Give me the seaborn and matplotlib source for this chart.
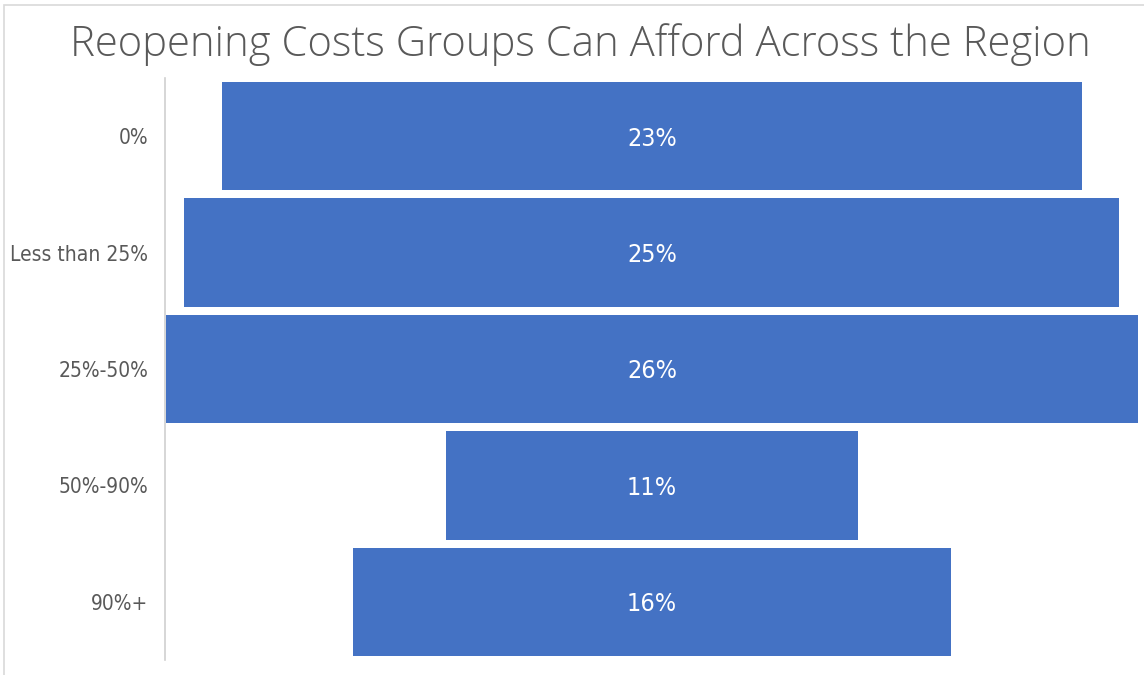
import pandas as pd
import matplotlib.pyplot as plt
import matplotlib.patches as mpatches
from matplotlib import font_manager
import seaborn as sns

sns.set_style("white")

# procurar uma fonte estreita instalada
nomes = {f.name for f in font_manager.fontManager.ttflist}
estreitas = [n for n in ["Liberation Sans Narrow", "DejaVu Sans Condensed"] if n in nomes]
plt.rcParams['font.family'] = estreitas + ['DejaVu Sans']
plt.rcParams['font.stretch'] = 'condensed'

# dados
categorias = ["0%", "Less than 25%", "25%-50%", "50%-90%", "90%+"]
valores = [23, 25, 26, 11, 16]

azul = "#4472C4"
cinza = "#595959"

df = pd.DataFrame({"categoria": categorias, "valor": valores})
df["metade_dir"] = df["valor"] / 2
df["metade_esq"] = -df["valor"] / 2

fig = plt.figure(figsize=(11.44, 6.75), dpi=100)
ax = fig.add_axes([165 / 1144, 1 - 660 / 675, (1140 - 165) / 1144, (660 - 78) / 675])

# funil: duas metades simétricas em torno do zero
sns.barplot(data=df, x="metade_dir", y="categoria", color=azul, saturation=1,
            width=0.93, linewidth=0, ax=ax)
sns.barplot(data=df, x="metade_esq", y="categoria", color=azul, saturation=1,
            width=0.93, linewidth=0, ax=ax)

ax.set_xlim(-13.02, 13.05)
ax.set_ylim(4.5, -0.5)
ax.set_xlabel("")
ax.set_ylabel("")
ax.set_xticks([])
ax.tick_params(axis="y", length=0, pad=12, labelsize=15, labelcolor=cinza)
for lado in ["top", "right", "bottom"]:
    ax.spines[lado].set_visible(False)
ax.spines["left"].set_color("#d0d0d0")
ax.spines["left"].set_linewidth(1.2)

for i, v in enumerate(valores):
    ax.text(0, i + 0.02, f"{v}%", ha="center", va="center", color="white", fontsize=18)

fig.text(580 / 1144, 1 - 45 / 675, "Reopening Costs Groups Can Afford Across the Region",
         ha="center", va="center", fontsize=30.2, color=cinza,
         family=["Open Sans", "DejaVu Sans"], fontweight="light", fontstretch="normal")

# moldura clara em volta da figura
fig.patches.append(mpatches.Rectangle((4 / 1144, -0.1), 1.2, 1 - 5 / 675 + 0.1,
                                      transform=fig.transFigure, fill=False,
                                      edgecolor="#d9d9d9", linewidth=1.2))

fig.savefig("out.png", dpi=100)
